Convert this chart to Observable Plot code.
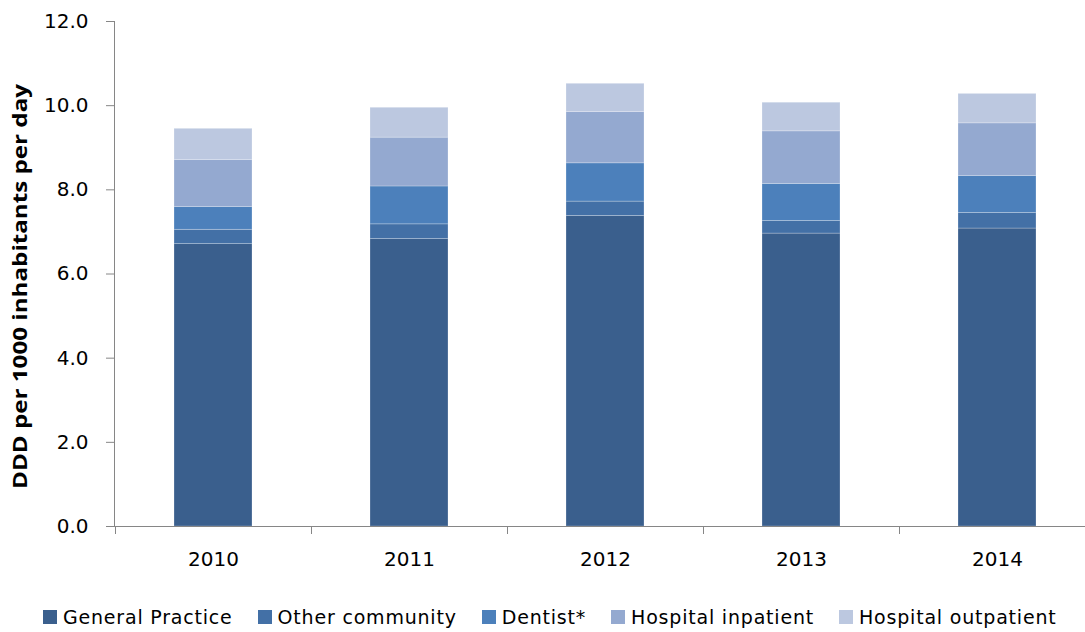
<!DOCTYPE html>
<html>
<head>
<meta charset="utf-8">
<script src="https://cdn.jsdelivr.net/npm/d3@7"></script>
<script src="https://cdn.jsdelivr.net/npm/@observablehq/plot@0.6"></script>
<style>
  html, body { margin: 0; padding: 0; background: #fff; }
  #chart { width: 1085px; height: 580px; }
  #legend {
    display: flex; align-items: center; justify-content: flex-start;
    margin-top: 26px; padding-left: 43px;
    font-family: "DejaVu Sans", sans-serif; font-size: 19px; letter-spacing: 0.8px; color: #000;
    white-space: nowrap;
  }
  .item { display: flex; align-items: center; margin-right: 25px; }
  .sw { width: 14px; height: 14px; margin-right: 6px; display: inline-block; }
</style>
</head>
<body>
<div id="chart"></div>
<div id="legend"></div>
<script>
const years = ["2010", "2011", "2012", "2013", "2014"];
const seriesNames = ["General Practice", "Other community", "Dentist*", "Hospital inpatient", "Hospital outpatient"];
const generalPractice   = [6.71, 6.83, 7.38, 6.96, 7.08];
const otherCommunity    = [0.34, 0.35, 0.34, 0.30, 0.37];
const dentist           = [0.54, 0.90, 0.91, 0.88, 0.88];
const hospitalInpatient = [1.12, 1.16, 1.22, 1.25, 1.25];
const hospitalOutpatient= [0.74, 0.71, 0.67, 0.68, 0.70];
const yTicks = [0, 2, 4, 6, 8, 10, 12];
const yTitle = "DDD per 1000 inhabitants per day";
const colors = ["#3A5F8D", "#4370A6", "#4C80BB", "#94A9D0", "#BCC8E0"];

const seriesValues = [generalPractice, otherCommunity, dentist, hospitalInpatient, hospitalOutpatient];
const data = [];
years.forEach((yr, i) => {
  seriesNames.forEach((s, j) => data.push({year: yr, series: s, value: seriesValues[j][i]}));
});

const axisColor = "#868686";

function axisExtras(index, scales, values, dims) {
  const x = scales.x, y = scales.y;
  const xs = years.map(v => x(v));
  const step = xs[1] - xs[0];
  let bw = typeof x.bandwidth === "function" ? x.bandwidth() : x.bandwidth;
  if (!(bw > 0)) bw = step * 0.4;
  const gap = (step - bw) / 2;
  const bounds = xs.map(v => v - gap).concat([xs[xs.length - 1] + bw + gap]);
  const y0 = y(0), yTop = y(12);
  const g = d3.create("svg:g").attr("stroke", axisColor).attr("stroke-width", 1);
  g.append("line").attr("x1", dims.marginLeft + 0.5).attr("x2", dims.marginLeft + 0.5)
    .attr("y1", yTop).attr("y2", y0);
  bounds.forEach(b => {
    g.append("line").attr("x1", Math.round(b) + 0.5).attr("x2", Math.round(b) + 0.5)
      .attr("y1", y0).attr("y2", y0 + 8);
  });
  g.append("text")
    .attr("stroke", "none").attr("fill", "#000")
    .attr("transform", `translate(20, ${(y0 + yTop) / 2 + 13}) rotate(-90)`)
    .attr("text-anchor", "middle")
    .attr("dominant-baseline", "central")
    .attr("font-family", "'Open Sans', 'Noto Sans', sans-serif")
    .attr("font-weight", "bold")
    .attr("font-size", 19)
    .attr("textLength", 405)
    .attr("lengthAdjust", "spacingAndGlyphs")
    .text(yTitle);
  return g.node();
}

const chart = Plot.plot({
  width: 1085,
  height: 580,
  marginTop: 21,
  marginBottom: 54,
  marginLeft: 114,
  marginRight: 0,
  style: {fontFamily: "'DejaVu Sans', sans-serif", fontSize: "20px", color: "#000", background: "#fff", overflow: "visible"},
  x: {type: "band", domain: years, range: [114, 1096], paddingInner: 0.6, paddingOuter: 0.3},
  y: {domain: [0, 12], range: [526, 21]},
  color: {domain: seriesNames, range: colors},
  marks: [
    Plot.barY(data, {x: "year", y: "value", fill: "series", stroke: "white", strokeOpacity: 0.3, strokeWidth: 0.8}),
    Plot.ruleY([0], {stroke: axisColor}),
    axisExtras,
    Plot.axisY({ticks: yTicks, tickFormat: d => d.toFixed(1), tickSize: 8, tickPadding: 18, stroke: axisColor, fill: "#000",
      fontSize: 20, label: null}),
    Plot.axisX({tickSize: 0, tickPadding: 25, fill: "#000", fontSize: 20, label: null})
  ]
});

document.getElementById("chart").appendChild(chart);

const legend = document.getElementById("legend");
seriesNames.forEach((s, i) => {
  const item = document.createElement("div");
  item.className = "item";
  const sw = document.createElement("span");
  sw.className = "sw";
  sw.style.background = colors[i];
  const tx = document.createElement("span");
  tx.textContent = s;
  item.appendChild(sw); item.appendChild(tx);
  legend.appendChild(item);
});
</script>
</body>
</html>
